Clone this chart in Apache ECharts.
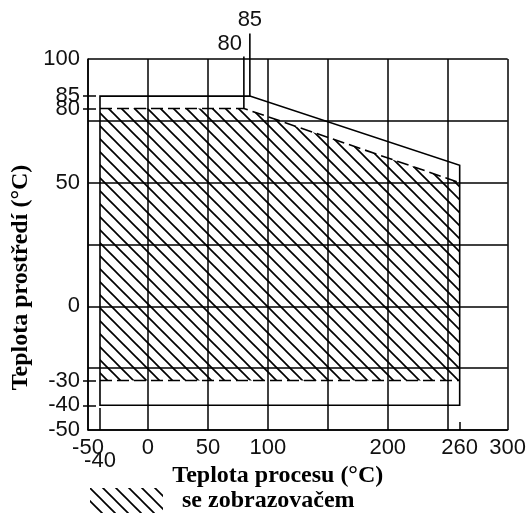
<!DOCTYPE html>
<html>
<head>
<meta charset="utf-8">
<script src="https://cdn.jsdelivr.net/npm/echarts@6/dist/echarts.min.js"></script>
<style>html,body{margin:0;padding:0;background:#fff;}#c{width:529px;height:513px;}</style>
</head>
<body>
<div id="c"></div>
<script>
// ---- data ----
const xLabels = [-50, 0, 50, 100, 200, 260, 300];
const xExtraLabels = [-40];
const yLabels = [100, 85, 80, 50, 0, -30, -40, -50];
const yTicks = [85, 80, -30, -40];
// outer limit (solid line)
const outerX = [-40, -40, 85, 260, 260];
const outerY = [-40, 85, 85, 57, -40];
// with display (hatched)
const innerX = [-40, -40, 80, 260, 260];
const innerY = [-30, 80, 80, 50, -30];
const kneeLabels = ['80', '85'];
const legendText = 'se zobrazovačem';

function makeHatch(s, lw) {
  const c = document.createElement('canvas');
  c.width = s; c.height = s;
  const g = c.getContext('2d');
  g.strokeStyle = '#000'; g.lineWidth = lw;
  for (const k of [-1, 0, 1]) {
    g.beginPath();
    g.moveTo(-s, -s + k * s);
    g.lineTo(2 * s, 2 * s + k * s);
    g.stroke();
  }
  return c;
}
const hatch = makeHatch(13, 1.7);

const numFont = '"Liberation Sans", Arial, sans-serif';
const serif = '"Liberation Serif", "Times New Roman", serif';

const chart = echarts.init(document.getElementById('c'));
const baseX = {type: 'value', min: -50, max: 300, interval: 50, gridIndex: 0};
const baseY = {type: 'value', min: -50, max: 100, interval: 25, gridIndex: 0};
const hidden = {axisLine: {show: false, onZero: false}, splitLine: {show: false}};

chart.setOption({
  animation: false,
  backgroundColor: '#fff',
  grid: {left: 88, top: 59, width: 425, height: 371, containLabel: false},
  xAxis: [
    Object.assign({}, baseX, {
      position: 'bottom',
      axisLine: {show: true, onZero: false, lineStyle: {color: '#000', width: 1.5}},
      axisTick: {show: false},
      splitLine: {show: true, lineStyle: {color: '#000', width: 1.5}},
      axisLabel: {customValues: xLabels, margin: 7, color: '#111', fontSize: 22, fontFamily: numFont},
      name: 'Teplota procesu (°C)', nameLocation: 'middle', nameGap: 31,
      nameTextStyle: {fontFamily: serif, fontWeight: 'bold', fontSize: 24, color: '#000', padding: [0, 40, 0, 0]}
    }),
    Object.assign({}, baseX, hidden, {
      position: 'bottom',
      axisTick: {show: true, inside: true, length: 22, customValues: xExtraLabels, lineStyle: {color: '#000', width: 1.5}},
      axisLabel: {customValues: xExtraLabels, margin: 20, color: '#111', fontSize: 22, fontFamily: numFont}
    }),
    Object.assign({}, baseX, hidden, {
      position: 'bottom',
      axisTick: {show: true, inside: true, length: 8, customValues: [260], lineStyle: {color: '#000', width: 1.5}},
      axisLabel: {show: false}
    })
  ],
  yAxis: [
    Object.assign({}, baseY, {
      position: 'left',
      axisLine: {show: true, onZero: false, lineStyle: {color: '#000', width: 1.5}},
      axisTick: {show: false},
      splitLine: {show: true, lineStyle: {color: '#000', width: 1.5}},
      axisLabel: {customValues: yLabels, margin: 8, color: '#111', fontSize: 22, fontFamily: numFont},
      name: 'Teplota prostředí (°C)', nameLocation: 'middle', nameGap: 52,
      nameTextStyle: {fontFamily: serif, fontWeight: 'bold', fontSize: 24, color: '#000', padding: [0, 66, 0, 0]}
    }),
    Object.assign({}, baseY, hidden, {
      position: 'left',
      axisTick: {show: true, inside: false, length: 5, customValues: yTicks, lineStyle: {color: '#000', width: 1.5}},
      axisLabel: {show: false}
    }),
    Object.assign({}, baseY, hidden, {
      position: 'left',
      axisTick: {show: true, inside: true, length: 8, customValues: yTicks, lineStyle: {color: '#000', width: 1.5}},
      axisLabel: {show: false}
    })
  ],
  graphic: [
    {type: 'rect', left: 90, top: 488, shape: {width: 73, height: 25}, style: {fill: {image: hatch, repeat: 'repeat'}}},
    {type: 'text', left: 182, top: 489, style: {text: legendText, font: 'bold 24px ' + serif, fill: '#000'}}
  ],
  series: [{
    type: 'custom',
    coordinateSystem: 'cartesian2d',
    xAxisIndex: 0, yAxisIndex: 0,
    silent: true,
    clip: false,
    data: [[0, 0]],
    renderItem: function (params, api) {
      const pts = (xs, ys) => xs.map((x, i) => api.coord([x, ys[i]]));
      const outer = pts(outerX, outerY);
      const inner = pts(innerX, innerY);
      const dash = [12, 5];
      const ls = {stroke: '#000', lineWidth: 1.6, fill: null};
      const k80 = api.coord([innerX[2], innerY[2]]);
      const k85 = api.coord([outerX[2], outerY[2]]);
      const top80 = api.coord([innerX[2], 101]);
      const top85 = api.coord([outerX[2], 110.3]);
      const lab80 = api.coord([innerX[2], 105.9]);
      const lab85 = api.coord([outerX[2], 115.6]);
      return {
        type: 'group',
        children: [
          {type: 'polygon', shape: {points: inner}, style: {fill: {image: hatch, repeat: 'repeat'}, stroke: null}},
          {type: 'polyline', shape: {points: [inner[0], inner[4]]}, style: Object.assign({lineDash: dash}, ls)},
          {type: 'polyline', shape: {points: [inner[1], inner[2], inner[3]]}, style: Object.assign({lineDash: dash}, ls)},
          {type: 'polygon', shape: {points: outer}, style: ls},
          {type: 'line', shape: {x1: k80[0], y1: k80[1], x2: top80[0], y2: top80[1]}, style: ls},
          {type: 'line', shape: {x1: k85[0], y1: k85[1], x2: top85[0], y2: top85[1]}, style: ls},
          {type: 'text', x: lab80[0] - 2, y: lab80[1], style: {text: kneeLabels[0], fill: '#111', font: '22px ' + numFont, align: 'right', verticalAlign: 'middle'}},
          {type: 'text', x: lab85[0], y: lab85[1], style: {text: kneeLabels[1], fill: '#111', font: '22px ' + numFont, align: 'center', verticalAlign: 'middle'}}
        ]
      };
    }
  }]
});
</script>
</body>
</html>
